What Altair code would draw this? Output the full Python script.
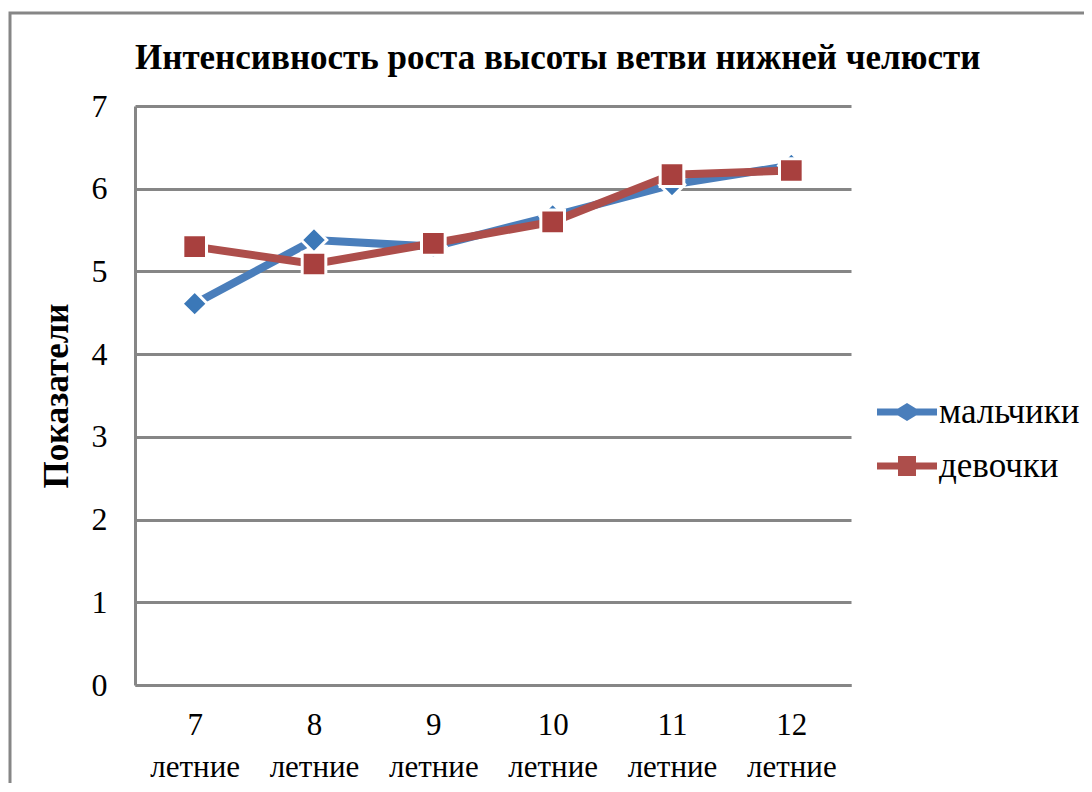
import altair as alt
import pandas as pd

ages = ["7", "8", "9", "10", "11", "12"]
boys = [4.61, 5.38, 5.30, 5.67, 6.05, 6.28]
girls = [5.30, 5.09, 5.34, 5.60, 6.17, 6.22]
series_names = ["мальчики", "девочки"]
colors = ["#4a7ebb", "#ad4e4b"]
marker_fill = ["#3b78b8", "#a8403e"]
title_text = "Интенсивность роста высоты ветви нижней челюсти"

rows = []
for a, b, g in zip(ages, boys, girls):
    rows.append({"age": a, "series": series_names[0], "value": b})
    rows.append({"age": a, "series": series_names[1], "value": g})
df = pd.DataFrame(rows)

FONT = "Liberation Serif"

x_enc = alt.X("age:N", sort=ages, scale=alt.Scale(type="point", padding=0.5),
              axis=alt.Axis(title=None, labelAngle=0, labelExpr="[datum.label, 'летние']",
                            labelFontSize=31, labelFont=FONT, labelColor="black",
                            labelPadding=25, labelLineHeight=42, ticks=False,
                            domainColor="#868686", domainWidth=3, grid=False))
y_enc = alt.Y("value:Q", scale=alt.Scale(domain=[0, 7]),
              axis=alt.Axis(title="Показатели", values=[0, 1, 2, 3, 4, 5, 6, 7],
                            titleFontSize=35, titleFont=FONT, titleFontWeight="bold",
                            titleColor="black", titlePadding=17,
                            labelFontSize=32, labelFont=FONT, labelColor="black",
                            labelPadding=28, ticks=False,
                            domainColor="#868686", domainWidth=3,
                            grid=True, gridColor="#868686", gridWidth=3))

color_scale = alt.Scale(domain=series_names, range=colors)
legend_paths = [
    "M-1,-0.12 L-0.3,-0.12 L0,-0.3 L0.3,-0.12 L1,-0.12 L1,0.12 L0.3,0.12 L0,0.3 L-0.3,0.12 L-1,0.12 Z",
    "M-1,-0.12 L-0.3,-0.12 L-0.3,-0.33 L0.3,-0.33 L0.3,-0.12 L1,-0.12 L1,0.12 L0.3,0.12 L0.3,0.33 L-0.3,0.33 L-0.3,0.12 L-1,0.12 Z",
]
legend = alt.Legend(title=None, orient="none", legendX=742, legendY=276,
                    labelFontSize=35, labelFont=FONT, labelColor="black",
                    symbolSize=3600, symbolStrokeWidth=0, symbolOpacity=1,
                    rowPadding=6, labelOffset=2, symbolOffset=0)

base = alt.Chart(df)

# legend carrier (invisible marks)
carrier = base.mark_point(filled=True, opacity=0).encode(
    x=x_enc, y=y_enc,
    color=alt.Color("series:N", scale=color_scale, legend=legend, sort=series_names),
    shape=alt.Shape("series:N", scale=alt.Scale(domain=series_names, range=legend_paths),
                    legend=legend, sort=series_names),
)

layers = [carrier]
shapes = ["diamond", "square"]
sizes = [650, 560]
for i, s in enumerate(series_names):
    sub = base.transform_filter(alt.datum.series == s)
    layers.append(sub.mark_line(strokeWidth=8, color=colors[i]).encode(x=x_enc, y=y_enc))
    layers.append(sub.mark_point(shape=shapes[i], filled=True, size=sizes[i],
                                 fill=marker_fill[i], stroke="white", strokeWidth=3,
                                 opacity=1).encode(x=x_enc, y=y_enc))

frame = alt.Chart(alt.Data(values=[{}])).mark_rect(
    filled=False, fillOpacity=0, stroke="#868686", strokeWidth=3
).encode(x=alt.value(-125), x2=alt.value(1100), y=alt.value(-93), y2=alt.value(900))

title = alt.Chart(alt.Data(values=[{"t": title_text}])).mark_text(
    font=FONT, fontSize=35, fontWeight="bold", color="black", align="left", baseline="middle"
).encode(text="t:N", x=alt.value(0), y=alt.value(-48))

chart = alt.layer(frame, title, *layers).properties(
    width=716, height=579,
    autosize=alt.AutoSizeParams(type="none"),
    padding={"left": 127, "top": 98, "right": 233, "bottom": 98},
).configure_view(stroke=None)

chart.save("out.html", embed_options={"renderer": "svg", "actions": False})
